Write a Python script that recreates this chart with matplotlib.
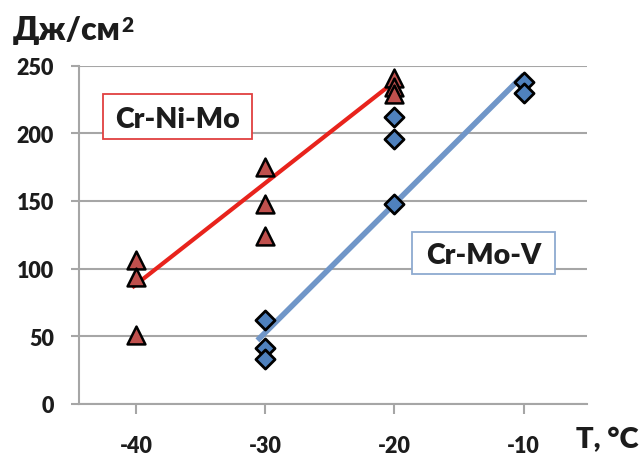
import matplotlib
matplotlib.use("Agg")
import matplotlib.pyplot as plt
from matplotlib.patches import Rectangle

plt.rcParams["axes.unicode_minus"] = False

# Impact toughness (J/cm^2) vs test temperature
temp_ni = [-40, -40, -40, -30, -30, -30, -20, -20, -20]
kcv_ni = [106, 94, 51, 175, 148, 124, 241, 234, 229]

temp_v = [-30, -30, -30, -20, -20, -20, -10, -10]
kcv_v = [62, 41, 33, 212, 196, 148, 238, 230]

# Trend line end points
trend_ni_x = [-40.3, -20]
trend_ni_y = [86, 238]
trend_v_x = [-30.6, -10]
trend_v_y = [47, 243]

x_ticks = [-40, -30, -20, -10]
y_ticks = [0, 50, 100, 150, 200, 250]

FONT = ["Lato", "DejaVu Sans"]
WEIGHT = "heavy"
TXT = "#1c1c1c"
GRID = "#a6a6a6"
W, H = 641, 456

fig = plt.figure(figsize=(W / 100, H / 100), dpi=100)
ax = fig.add_axes([79 / W, 51 / H, 508 / W, 338.5 / H])

ax.set_xlim(-44.41, -5.09)
ax.set_ylim(0, 250)
ax.set_yticks(y_ticks)
ax.set_xticks(x_ticks)
ax.yaxis.grid(True, color=GRID, linewidth=1.5)
ax.set_axisbelow(True)

for side in ("top", "right"):
    ax.spines[side].set_visible(False)
for side in ("left", "bottom"):
    ax.spines[side].set_color(GRID)
    ax.spines[side].set_linewidth(1.5)

ax.tick_params(axis="y", length=6, width=1.5, color=GRID, pad=12)
ax.tick_params(axis="x", length=7, width=1.5, color=GRID, pad=15)
for lbl in ax.get_xticklabels() + ax.get_yticklabels():
    lbl.set_fontfamily(FONT)
    lbl.set_fontweight(WEIGHT)
    lbl.set_fontsize(15.5)
    lbl.set_color(TXT)

ax.plot(trend_ni_x, trend_ni_y, color="#e8231c", linewidth=3, zorder=2,
        solid_capstyle="butt")
ax.plot(trend_v_x, trend_v_y, color="#7096c8", linewidth=4, zorder=2,
        solid_capstyle="butt")

ax.scatter(temp_ni, kcv_ni, marker="^", s=165, facecolor="#c0504d",
           edgecolor="black", linewidth=1.8, zorder=4)
ax.scatter(temp_v, kcv_v, marker="D", s=95, facecolor="#4f81bd",
           edgecolor="black", linewidth=2.0, zorder=4)


def label_box(x0, y0, x1, y1, text, edge):
    """Boxed label given by pixel corners (top-left origin)."""
    fig.add_artist(Rectangle((x0 / W, 1 - y1 / H), (x1 - x0) / W,
                             (y1 - y0) / H, transform=fig.transFigure,
                             facecolor="white", edgecolor=edge,
                             linewidth=1.3, zorder=5))
    fig.text((x0 + x1) / 2 / W, 1 - (y0 + y1) / 2 / H, text,
             fontfamily=FONT, fontweight=WEIGHT, fontsize=20.5, color=TXT,
             ha="center", va="center_baseline", zorder=6)


label_box(103, 95, 252, 140, "Cr-Ni-Mo", "#e04040")
label_box(412, 233, 555, 275, "Cr-Mo-V", "#8eaad0")

unit = fig.text(13 / W, 1 - 40 / H, "Дж/см", fontfamily=FONT,
                fontweight=WEIGHT, fontsize=23, color=TXT, ha="left",
                va="baseline")
fig.canvas.draw()
unit_right = unit.get_window_extent().x1
fig.text((unit_right + 1) / W, 1 - 32 / H, "2", fontfamily=FONT,
         fontweight=WEIGHT, fontsize=15, color=TXT, ha="left",
         va="baseline")
fig.text(638 / W, 1 - 448 / H, "T, °C", fontfamily=FONT,
         fontweight=WEIGHT, fontsize=21, color=TXT, ha="right",
         va="baseline")

fig.savefig("out.png", dpi=100)
